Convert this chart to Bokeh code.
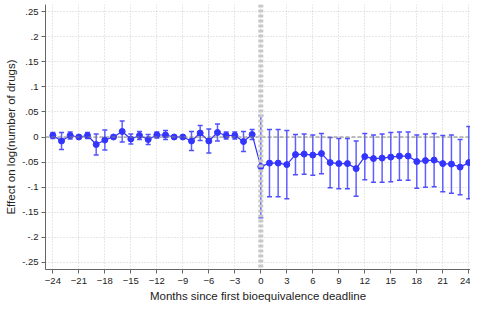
from bokeh.plotting import figure
from bokeh.models import Span, FixedTicker, Range1d, ColumnDataSource
from bokeh.embed import file_html
from bokeh.resources import INLINE

months = list(range(-24, 25))
estimate = [0.003, -0.008, 0.003, 0.000, 0.003, -0.015, -0.006, 0.000, 0.011, -0.004,
            0.003, -0.005, 0.004, 0.004, 0.000, 0.000, -0.008, 0.008, -0.008, 0.009,
            0.003, 0.003, -0.009, 0.005,
            -0.059,
            -0.052, -0.052, -0.055, -0.035, -0.034, -0.036, -0.033, -0.051, -0.053, -0.053,
            -0.063, -0.039, -0.043, -0.042, -0.040, -0.038, -0.038, -0.049, -0.047, -0.046,
            -0.053, -0.054, -0.060, -0.051]
ci_half = [0.006, 0.017, 0.007, 0.002, 0.006, 0.021, 0.020, 0.002, 0.021, 0.010,
           0.008, 0.010, 0.006, 0.009, 0.002, 0.002, 0.019, 0.015, 0.024, 0.017,
           0.007, 0.007, 0.020, 0.010,
           0.102,
           0.067, 0.067, 0.068, 0.040, 0.040, 0.040, 0.040, 0.050, 0.050, 0.050,
           0.055, 0.046, 0.047, 0.048, 0.049, 0.048, 0.048, 0.053, 0.053, 0.053,
           0.056, 0.058, 0.055, 0.072]

y_ticks = [-0.25, -0.2, -0.15, -0.1, -0.05, 0, 0.05, 0.1, 0.15, 0.2, 0.25]
y_tick_labels = ["-.25", "-.2", "-.15", "-.1", "-.05", "0", ".05", ".1", ".15", ".2", ".25"]
x_ticks = list(range(-24, 25, 3))
x_title = "Months since first bioequivalence deadline"
y_title = "Effect on log(number of drugs)"

lower = [e - h for e, h in zip(estimate, ci_half)]
upper = [e + h for e, h in zip(estimate, ci_half)]
src = ColumnDataSource(dict(x=months, y=estimate, lo=lower, hi=upper))

p = figure(width=470, height=304, output_backend="svg", toolbar_location=None,
           x_range=Range1d(-24.85, 24.2), y_range=Range1d(-0.264, 0.264),
           min_border_left=45, min_border_right=0, min_border_top=4, min_border_bottom=0)
p.outline_line_color = None
p.background_fill_color = "white"
p.border_fill_color = "white"

FONT = "Liberation Sans"
for ax in (p.xaxis[0], p.yaxis[0]):
    ax.axis_line_color = "#666666"
    ax.major_tick_line_color = "#666666"
    ax.major_tick_out = 4
    ax.major_tick_in = 0
    ax.minor_tick_line_color = None
    ax.major_label_text_font = FONT
    ax.major_label_text_font_size = "9.5px"
    ax.major_label_text_color = "#222222"
    ax.axis_label_text_font = FONT
    ax.axis_label_text_font_size = "11.5px"
    ax.axis_label_text_font_style = "normal"
    ax.axis_label_text_color = "#222222"

p.xaxis.major_label_standoff = 4
p.yaxis.major_label_standoff = 3
p.xaxis.ticker = FixedTicker(ticks=x_ticks)
p.yaxis.ticker = FixedTicker(ticks=y_ticks)
p.yaxis.major_label_overrides = dict(zip(y_ticks, y_tick_labels))
p.xaxis.axis_label = x_title
p.yaxis.axis_label = y_title
p.xaxis.axis_label_standoff = 3
p.yaxis.axis_label_standoff = 2

p.xgrid.ticker = FixedTicker(ticks=x_ticks)
p.ygrid.ticker = FixedTicker(ticks=y_ticks)
for g in (p.xgrid[0], p.ygrid[0]):
    g.grid_line_color = "#cfcfcf"
    g.grid_line_dash = "1 2"
    g.grid_line_width = 1

p.add_layout(Span(location=0, dimension="width", line_color="#7f7f7f",
                  line_dash="4 2", line_width=1))
p.add_layout(Span(location=0, dimension="height", line_color="#c8c8c8",
                  line_dash="3 2", line_width=5))

blue = "#3434ff"
p.segment(x0="x", y0="lo", x1="x", y1="hi", source=src, line_color="#4f4fff",
          line_width=1.5, line_alpha=0.9)
p.scatter(x="x", y="lo", source=src, marker="dash", size=5, line_color="#4f4fff", line_width=1.5)
p.scatter(x="x", y="hi", source=src, marker="dash", size=5, line_color="#4f4fff", line_width=1.5)
p.line(x="x", y="y", source=src, line_color=blue, line_width=1.2)
p.scatter(x="x", y="y", source=src, marker="circle", size=6, fill_color=blue, line_color=blue)

open("out.html", "w").write(file_html(p, INLINE))
